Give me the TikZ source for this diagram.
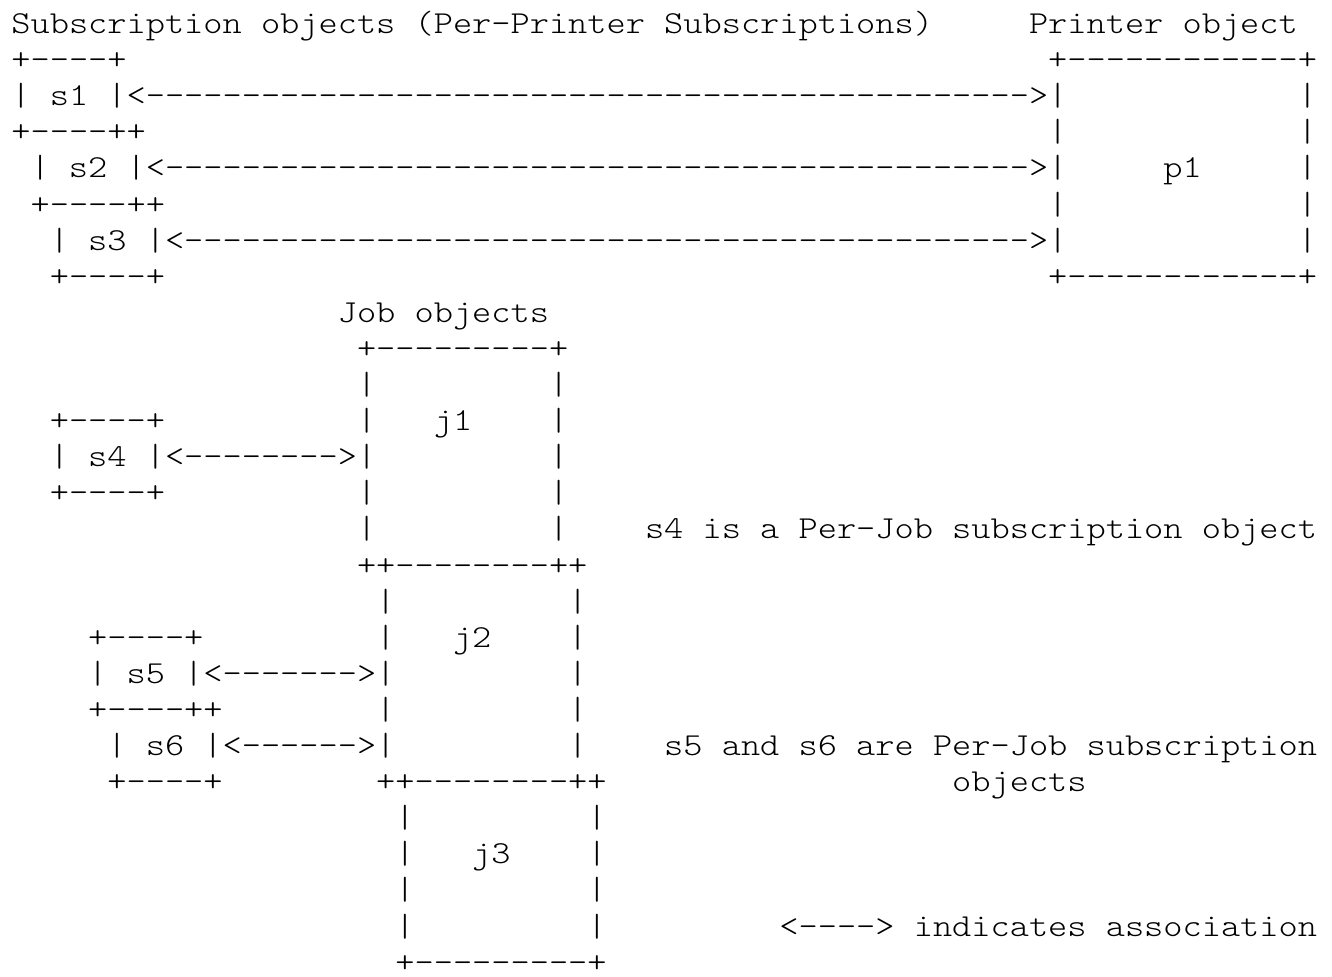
\documentclass[tikz,border=0pt]{standalone}
\usepackage{fontspec}
\setmonofont{lmmonolt10-regular.otf}
\usepackage{graphicx}
\ExplSyntaxOn
\cs_new:Npn \dashes #1 { \prg_replicate:nn {#1} {-} }
\ExplSyntaxOff
% one column of the ascii grid is 19.2px wide
\newcommand{\asc}[1]{\scalebox{1.142857}[1]{#1}}
\tikzset{ascii/.style={anchor=base west,inner sep=0pt,outer sep=0pt,
    font=\ttfamily\fontsize{16}{16}\selectfont}}

\begin{document}
\begin{tikzpicture}[x=0.5pt,y=-0.5pt]
  \fill[white] (0,0) rectangle (1332,976);
  \useasboundingbox (0,0) rectangle (1332,976);
  % column/row/text
  \foreach \c/\r/\t in {
      0/0/{Subscription objects (Per-Printer Subscriptions)}, 53/0/{Printer object},
      0/1/{+----+}, 54/1/{+\dashes{12}+},
      0/2/{| s1 |}, 6/2/{<\dashes{46}>}, 54/2/{|}, 67/2/{|},
      0/3/{+----++}, 54/3/{|}, 67/3/{|},
      1/4/{| s2 |}, 7/4/{<\dashes{45}>}, 54/4/{|}, 60/4/{p1}, 67/4/{|},
      1/5/{+----++}, 54/5/{|}, 67/5/{|},
      2/6/{| s3 |}, 8/6/{<\dashes{44}>}, 54/6/{|}, 67/6/{|},
      2/7/{+----+}, 54/7/{+\dashes{12}+},
      17/8/{Job objects},
      18/9/{+\dashes{9}+},
      18/10/{|}, 28/10/{|},
      2/11/{+----+}, 18/11/{|}, 22/11/{j1}, 28/11/{|},
      2/12/{| s4 |}, 8/12/{<\dashes{8}>}, 18/12/{|}, 28/12/{|},
      2/13/{+----+}, 18/13/{|}, 28/13/{|},
      18/14/{|}, 28/14/{|}, 33/14/{s4 is a Per-Job subscription object},
      18/15/{++\dashes{8}++},
      19/16/{|}, 29/16/{|},
      4/17/{+----+}, 19/17/{|}, 23/17/{j2}, 29/17/{|},
      4/18/{| s5 |}, 10/18/{<\dashes{7}>}, 19/18/{|}, 29/18/{|},
      4/19/{+----++}, 19/19/{|}, 29/19/{|},
      5/20/{| s6 |}, 11/20/{<\dashes{6}>}, 19/20/{|}, 29/20/{|},
        34/20/{s5 and s6 are Per-Job subscription},
      5/21/{+----+}, 19/21/{++\dashes{8}++}, 49/21/{objects},
      20/22/{|}, 30/22/{|},
      20/23/{|}, 24/23/{j3}, 30/23/{|},
      20/24/{|}, 30/24/{|},
      20/25/{|}, 30/25/{|}, 40/25/{<----> indicates association},
      20/26/{+\dashes{9}+}}
    \node[ascii] (n-\r-\c) at ({11.4+19.2*\c},{33.5+36.1*\r}) {\asc{\t}};
\end{tikzpicture}
\end{document}
